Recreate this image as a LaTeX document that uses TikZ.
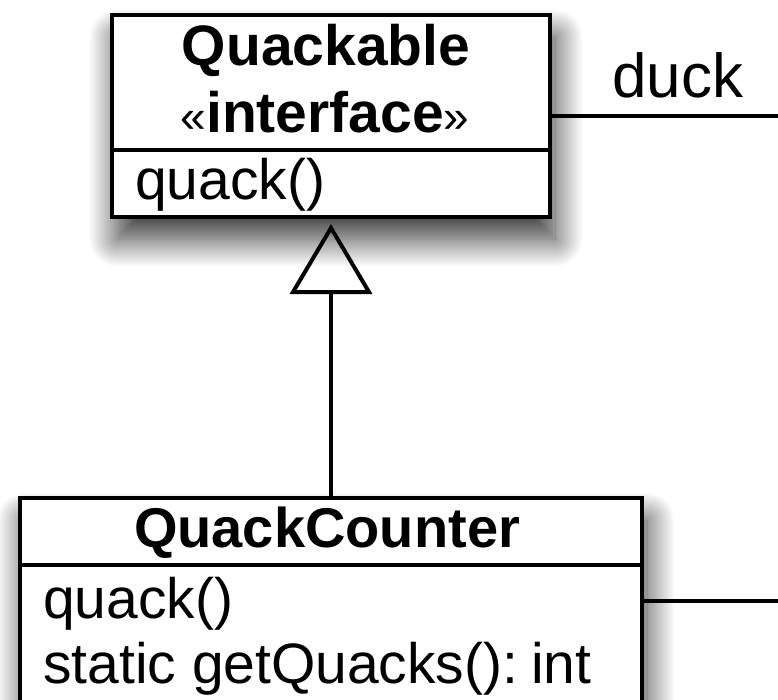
\documentclass[tikz,border=0pt]{standalone}
\usepackage{fontspec}
\setmainfont{Liberation Sans}
\usetikzlibrary{arrows.meta,shadows.blur}
\tikzset{>=latex}

\begin{document}
\begin{tikzpicture}[x=1pt,y=-1pt]
  \tikzstyle{every node}=[inner sep=0pt, font=\fontsize{57}{60}\selectfont]
  \tikzstyle{classbox}=[draw, line width=4pt, fill=white,
    blur shadow={shadow xshift=5pt, shadow yshift=-22pt, shadow blur radius=28pt,
      shadow blur steps=24, shadow opacity=80}]
  \tikzstyle{assoc}=[draw, line width=3.5pt]
  \useasboundingbox (0,0) rectangle (778,700);

  % Quackable interface
  \node[classbox, minimum width=438pt, minimum height=202pt] (quackable) at (331,116) {};
  \draw[line width=3.5pt] (quackable.west |- 0,150) -- (quackable.east |- 0,150);
  \node[anchor=base, font=\fontsize{57}{60}\selectfont\bfseries] (qname) at (326,66) {Quackable};
  \node[anchor=base] (qstereo) at (325,133) {{\fontsize{46}{46}\selectfont«}\textbf{interface}{\fontsize{46}{46}\selectfont»}};
  \node[anchor=base west] (qop) at (135,200) {quack()};

  % QuackCounter
  \node[classbox, minimum width=622pt, minimum height=262pt] (counter) at (331,629) {};
  \draw[line width=3.5pt] (counter.west |- 0,565) -- (counter.east |- 0,565);
  \node[anchor=base, font=\fontsize{56}{60}\selectfont\bfseries] (cname) at (327,547) {QuackCounter};
  \node[anchor=base west] (cop) at (43,618) {quack()};
  \node[anchor=base west] (cstatic) at (43,683) {static getQuacks():\kern-3pt\ int};

  % connectors
  \coordinate (duckend) at (778,116);
  \coordinate (counterend) at (778,601);
  \draw[assoc] (quackable.east) -- (duckend);
  \node[anchor=base west, font=\fontsize{62}{64}\selectfont] (duck) at (612,98) {duck};
  \draw[assoc] (counter.east |- counterend) -- (counterend);
  \draw[line width=4pt, -{Triangle[open, length=70pt, width=82pt]}]
    (counter.north) -- ([yshift=-5pt]quackable.south);
\end{tikzpicture}
\end{document}
